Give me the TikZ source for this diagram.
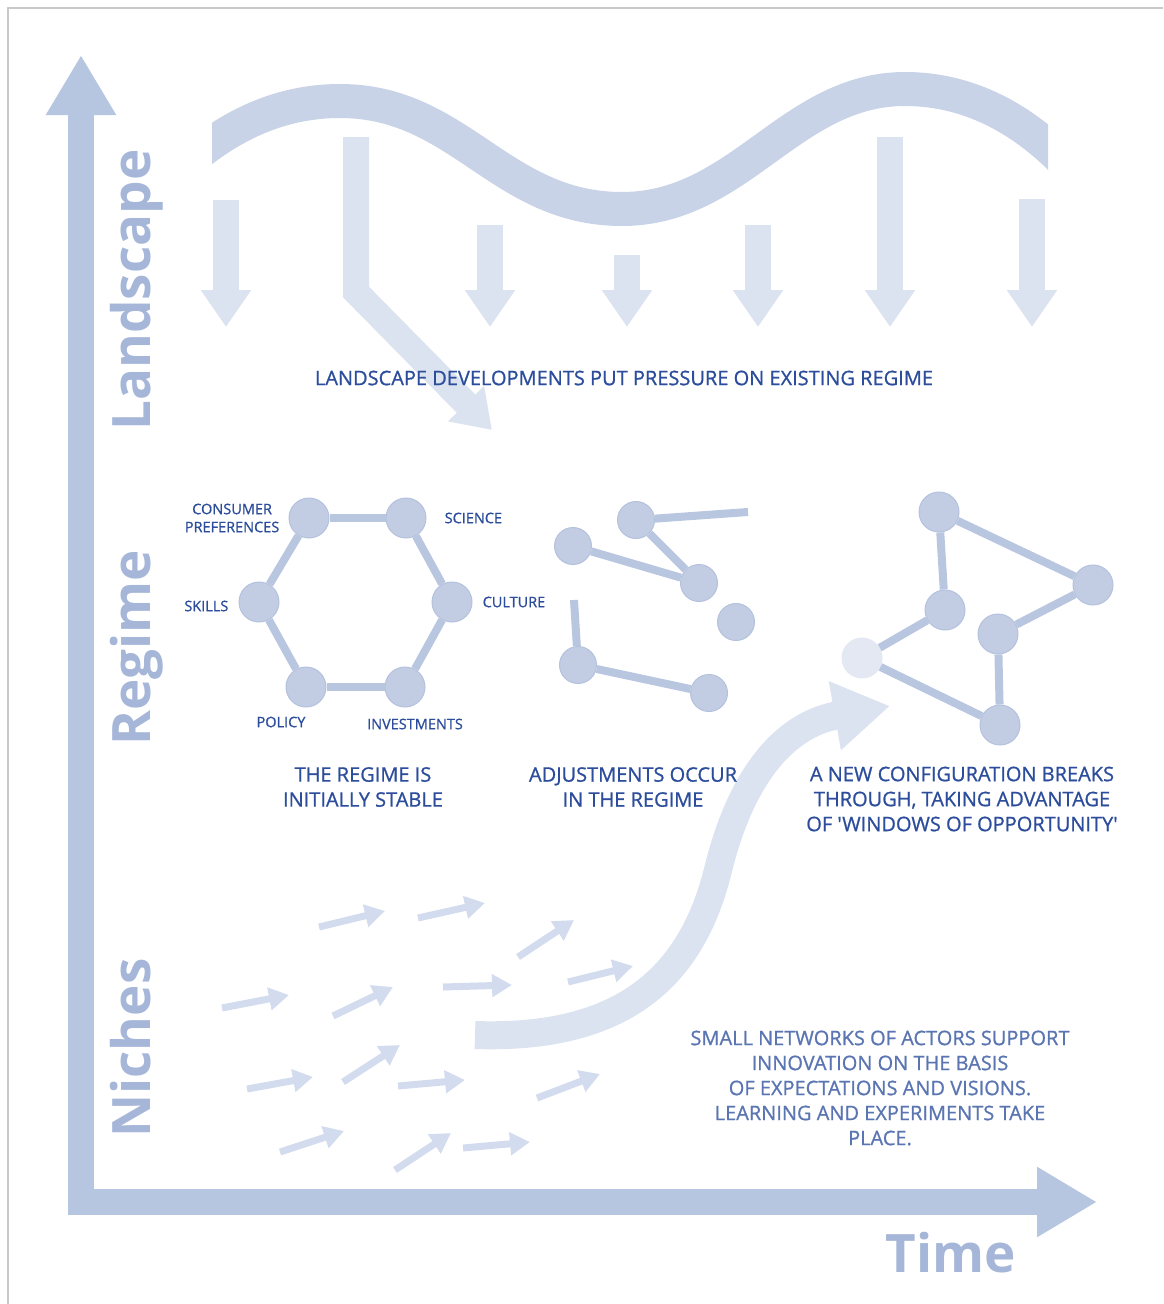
\documentclass[tikz,border=0pt]{standalone}
\usepackage{fontspec}
\setmainfont{Open Sans}[Ligatures=TeXOff]
\newfontfamily\capfont{Open Sans}[Ligatures=TeXOff,FakeBold=0.9]
\usetikzlibrary{positioning,arrows.meta}

\definecolor{frameline}{HTML}{C9C9C9}
\definecolor{axisblue}{HTML}{B6C5E0}
\definecolor{wavecol}{HTML}{C8D3E7}
\definecolor{pushcol}{HTML}{DCE3F0}
\definecolor{sproutcol}{HTML}{D3DCEE}
\definecolor{dotcol}{HTML}{C2CDE4}
\definecolor{dotrim}{HTML}{B4C2DD}
\definecolor{newdot}{HTML}{E3E8F3}
\definecolor{linkcol}{HTML}{B9C6E0}
\definecolor{txtblue}{HTML}{2C4D9C}
\definecolor{nichetxt}{HTML}{5A75B2}
\definecolor{bigtxt}{HTML}{A5B6D8}

\begin{document}
\begin{tikzpicture}[x=1pt,y=-1pt,
  axis/.style={draw=axisblue,line width=26pt,-{Triangle[width=66pt,length=60pt]}},
  wave/.style={draw=wavecol,line width=34pt},
  push/.style={draw=pushcol,line width=26pt,-{Triangle[width=48pt,length=37pt]}},
  sprout/.style={draw=sproutcol,line width=7pt,-{Triangle[width=22pt,length=20pt]}},
  dot/.style={circle,fill=dotcol,draw=dotrim,line width=1pt,minimum size=40pt,inner sep=0pt},
  sdot/.style={dot,minimum size=37pt},
  link/.style={draw=linkcol,line width=8pt},
  lbl/.style={text=txtblue,font=\capfont\fontsize{14.5}{18}\selectfont,align=center,inner sep=0pt},
  caption/.style={text=txtblue,font=\capfont\fontsize{20}{25}\selectfont,align=center},
  bigword/.style={text=bigtxt,font=\fontsize{53}{53}\selectfont\bfseries}
]
\useasboundingbox (0,0) rectangle (1163,1304);
\draw[frameline,line width=1.5pt] (8,1304) -- (8,8) -- (1163,8);

% landscape wave
\begin{scope}
\clip (212,0) rectangle (1048,300);
\draw[wave] (190,160) .. controls (240,118) and (290,101) .. (340,101)
  .. controls (460,101) and (500,209) .. (622,209)
  .. controls (740,209) and (790,89) .. (905,89)
  .. controls (975,89) and (1030,125) .. (1070,168);
\end{scope}

% pressure from the landscape
\foreach \x/\t in {226/200,490/225,627/255,758/225,890/137,1032/199}
  \draw[push] (\x,\t) -- (\x,327);
\draw[push] (356,137) -- (356,292) -- (492,430);

% niche experiments
\foreach \a/\b/\c/\d in {319/927/385/911, 418/918/485/903, 518/957/574/920,
  568/982/633/966, 222/1008/289/995, 333/1016/393/987, 443/987/512/985,
  247/1089/313/1077, 343/1082/400/1045, 398/1086/465/1080, 537/1098/600/1074,
  280/1152/344/1131, 395/1170/451/1133, 463/1148/530/1142}
  \draw[sprout] (\a,\b) -- (\c,\d);

% breakthrough
\draw[push,line width=28pt,-{Triangle[width=66pt,length=56pt]}] (475,1035)
  .. controls (625,1040) and (692,975) .. (718,870)
  .. controls (740,780) and (782,725) .. (890,706);

% axes
\draw[axis] (81,1215) -- (81,55);
\draw[axis] (68,1202) -- (1097,1202);

\node[bigword,rotate=90,anchor=base] (landscape) at (150,290) {Landscape};
\node[bigword,rotate=90,anchor=base] (regime) at (150,648) {Regime};
\node[bigword,rotate=90,anchor=base] (niches) at (150,1048) {Niches};
\node[bigword,anchor=base] (time) at (951,1272) {Time};

% stable regime
\node[dot] (cp) at (309,518) {};
\node[dot,right=56pt of cp] (sci) {};
\node[dot] (cul) at (452,602) {};
\node[dot] (inv) at (405,687) {};
\node[dot,left=58pt of inv] (pol) {};
\node[dot] (ski) at (259,602) {};
\path (cp) edge[link] (sci) (sci) edge[link] (cul) (cul) edge[link] (inv)
  (inv) edge[link] (pol) (pol) edge[link] (ski) (ski) edge[link] (cp);
\node[lbl,left=9pt of cp] {CONSUMER\\PREFERENCES};
\node[lbl,right=18pt of sci] {SCIENCE};
\node[lbl,left=10pt of ski,yshift=-4pt] {SKILLS};
\node[lbl,right=10pt of cul] {CULTURE};
\node[lbl,below=9pt of pol,xshift=-25pt] {POLICY};
\node[lbl,below=11pt of inv,xshift=10pt] {INVESTMENTS};

% adjusting regime
\node[sdot] (m1) at (636,520) {};
\node[sdot] (m2) at (573,546) {};
\node[sdot] (m3) at (699,583) {};
\node[sdot] (m4) at (736,622) {};
\node[sdot] (m5) at (578,665) {};
\node[sdot] (m6) at (709,693) {};
\coordinate (m1end) at (748,512);
\coordinate (m5end) at (574,600);
\path (m1) edge[link] (m1end) (m1) edge[link] (m3) (m2) edge[link] (m3)
  (m5end) edge[link] (m5) (m5) edge[link] (m6);

% new configuration
\node[dot] (r1) at (939,512) {};
\node[dot] (r2) at (1093,585) {};
\node[dot] (r3) at (945,610) {};
\node[dot] (r4) at (998,634) {};
\node[dot,fill=newdot,draw=newdot] (r5) at (862,658) {};
\node[dot] (r6) at (1000,725) {};
\path (r1) edge[link] (r2) (r1) edge[link] (r3) (r3) edge[link] (r5)
  (r5) edge[link] (r6) (r6) edge[link] (r4) (r4) edge[link] (r2);

\node[caption] (pressure) at (624,378) {LANDSCAPE DEVELOPMENTS PUT PRESSURE ON EXISTING REGIME};
\node[caption] (stable) at (363,787) {THE REGIME IS\\INITIALLY STABLE};
\node[caption] (adjust) at (633,787) {ADJUSTMENTS OCCUR\\IN THE REGIME};
\node[caption] (breaks) at (962,799) {A NEW CONFIGURATION BREAKS\\THROUGH, TAKING ADVANTAGE\\OF 'WINDOWS OF OPPORTUNITY'};
\node[caption,text=nichetxt] (actors) at (880,1088) {SMALL NETWORKS OF ACTORS SUPPORT\\INNOVATION ON THE BASIS\\OF EXPECTATIONS AND VISIONS.\\LEARNING AND EXPERIMENTS TAKE\\PLACE.};
\end{tikzpicture}
\end{document}
